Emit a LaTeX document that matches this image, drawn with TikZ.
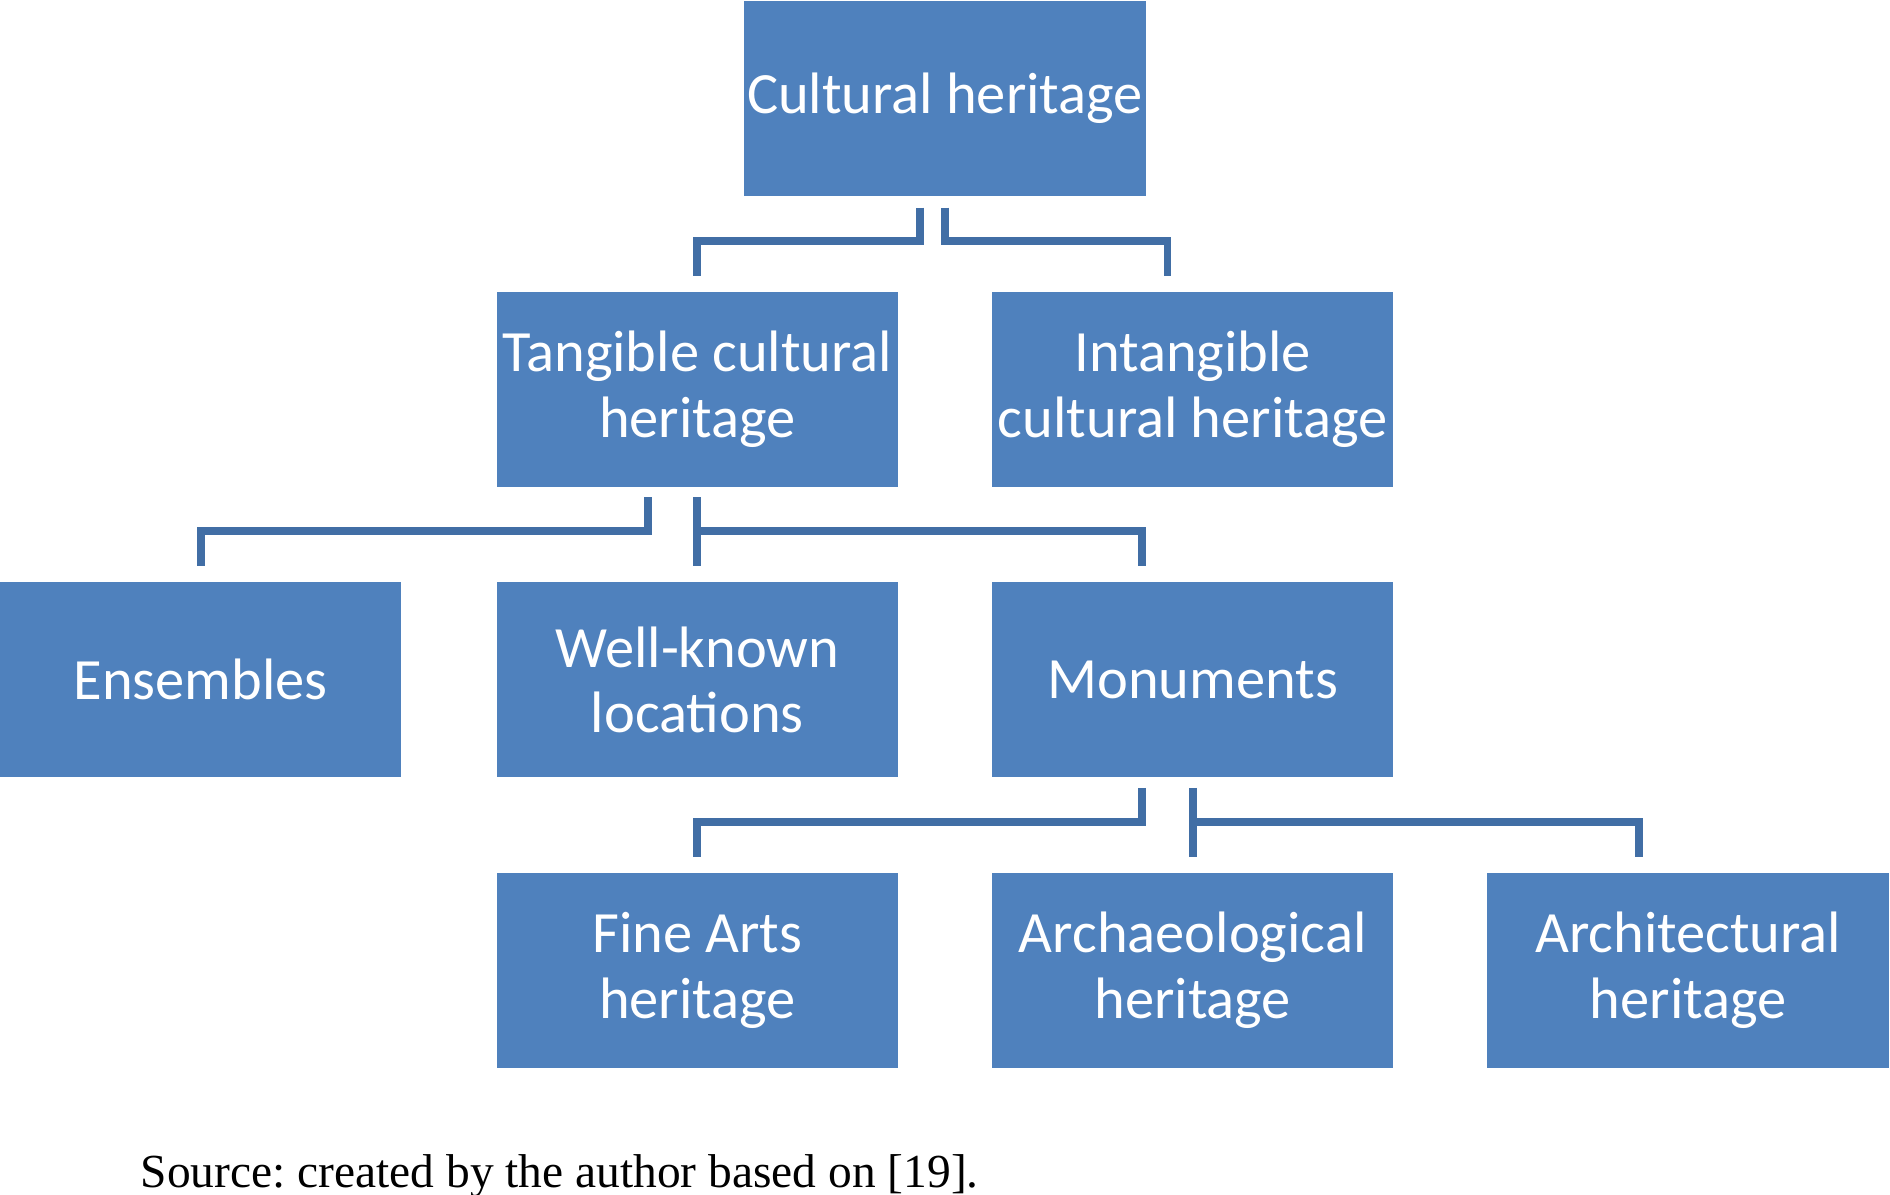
\documentclass[tikz,border=0pt]{standalone}
\usepackage{fontspec}
\setmainfont{Liberation Serif}
\newfontfamily\boxfont{Carlito}
\frenchspacing
\definecolor{boxblue}{HTML}{4F81BD}
\definecolor{linkblue}{RGB}{65,110,165}
\begin{document}
\begin{tikzpicture}[
  unit/.style={fill=boxblue, text=white, inner sep=0pt, minimum width=3.33cm,
    minimum height=1.62cm, align=center, font=\boxfont\fontsize{13.8}{15.4}\selectfont},
  link/.style={draw=linkblue, line width=1.8pt}
]
\useasboundingbox (0,0) rectangle (15.68,-9.91);
% Uzly
\node[unit] (cult) at (7.84,-0.815) {Cultural heritage};
\node[unit] (tang) at (5.785,-3.23) {Tangible cultural\\heritage};
\node[unit] (intang) at (9.895,-3.23) {Intangible\\cultural heritage};
\node[unit] (ens) at (1.665,-5.64) {Ensembles};
\node[unit] (well) at (5.785,-5.64) {Well-known\\locations};
\node[unit] (monu) at (9.895,-5.64) {Monuments};
\node[unit] (fine) at (5.785,-8.05) {Fine Arts\\heritage};
\node[unit] (archae) at (9.895,-8.05) {Archaeological\\heritage};
\node[unit] (archi) at (14.005,-8.05) {Architectural\\heritage};
% Spojnice
\draw[link] ([xshift=-2.1mm,yshift=-0.9mm]cult.south) -- ++(0,-2.8mm) -| ([yshift=1.2mm]tang.north);
\draw[link] ([yshift=-0.9mm]cult.south) -- ++(0,-2.8mm) -| ([xshift=-2.1mm,yshift=1.2mm]intang.north);
\draw[link] ([xshift=-4.1mm,yshift=-0.8mm]tang.south) -- ++(0,-2.8mm) -| ([yshift=1.3mm]ens.north);
\draw[link] ([yshift=-0.8mm]tang.south) -- ([yshift=1.3mm]well.north);
\draw[link] ([yshift=-3.6mm]tang.south) -| ([xshift=-4.2mm,yshift=1.3mm]monu.north);
\draw[link] ([xshift=-4.2mm,yshift=-0.8mm]monu.south) -- ++(0,-2.8mm) -| ([yshift=1.2mm]fine.north);
\draw[link] ([yshift=-0.8mm]monu.south) -- ([yshift=1.2mm]archae.north);
\draw[link] ([yshift=-3.6mm]monu.south) -| ([xshift=-4.1mm,yshift=1.2mm]archi.north);
% Zdroj
\node[anchor=base west, inner sep=0pt, font=\fontsize{11.2}{13}\selectfont] (src) at (1.16,-9.85)
  {Source: created by the author based on [19].};
\end{tikzpicture}
\end{document}
